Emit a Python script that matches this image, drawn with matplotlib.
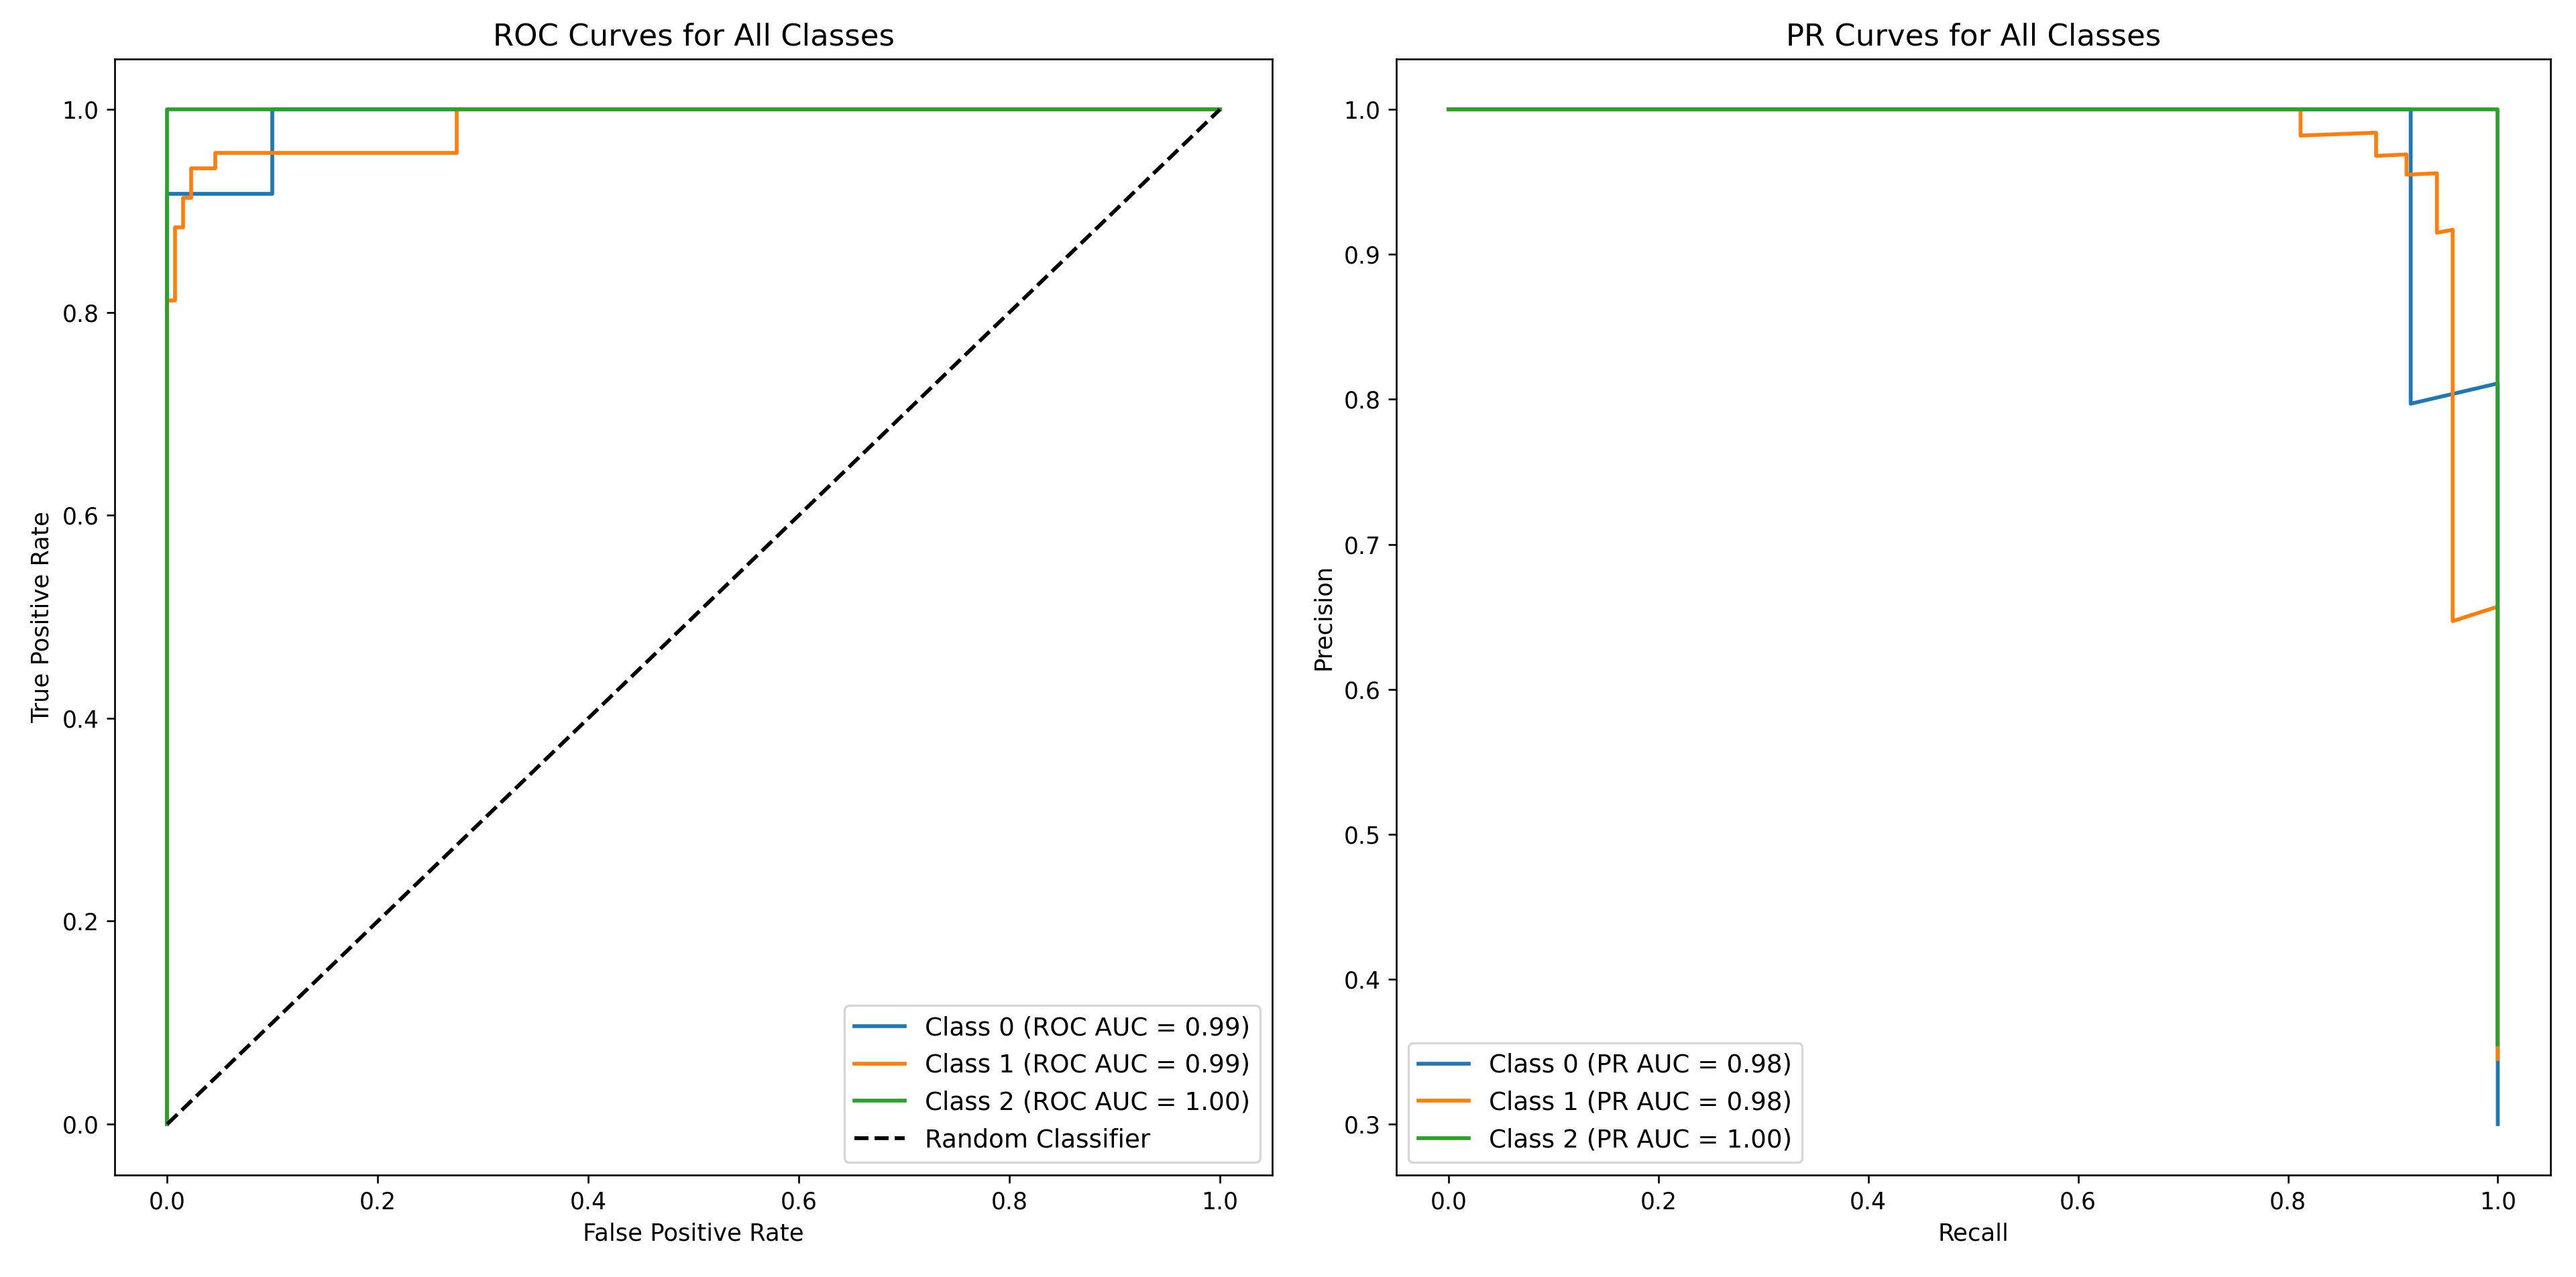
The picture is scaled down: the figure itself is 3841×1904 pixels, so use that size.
import matplotlib
matplotlib.use("Agg")
import matplotlib.pyplot as plt

# ROC curve points (fpr, tpr) per class
roc_fpr_0 = [0.0, 0.0, 0.100, 0.100, 1.0]
roc_tpr_0 = [0.0, 0.917, 0.917, 1.0, 1.0]
roc_fpr_1 = [0.0, 0.0, 0.0076, 0.0076, 0.0153, 0.0153, 0.0229, 0.0229, 0.0458, 0.0458, 0.275, 0.275, 1.0]
roc_tpr_1 = [0.0, 0.812, 0.812, 0.884, 0.884, 0.913, 0.913, 0.942, 0.942, 0.957, 0.957, 1.0, 1.0]
roc_fpr_2 = [0.0, 0.0, 1.0]
roc_tpr_2 = [0.0, 1.0, 1.0]
roc_auc = [0.99, 0.99, 1.00]

# PR curve points (recall, precision) per class
pr_rec_0 = [0.0, 0.917, 0.917, 1.0, 1.0]
pr_prec_0 = [1.0, 1.0, 0.797, 0.811, 0.300]
pr_rec_1 = [0.0, 0.812, 0.812, 0.884, 0.884, 0.913, 0.913, 0.942, 0.942, 0.942, 0.942, 0.957, 0.957, 1.0, 1.0]
pr_prec_1 = [1.0, 1.0, 0.982, 0.984, 0.968, 0.969, 0.955, 0.956, 0.942, 0.929, 0.915, 0.917, 0.647, 0.657, 0.345]
pr_rec_2 = [0.0, 1.0, 1.0]
pr_prec_2 = [1.0, 1.0, 0.355]
pr_auc = [0.98, 0.98, 1.00]

colors = ["#1f77b4", "#ff7f0e", "#2ca02c"]

plt.rcParams["xtick.labelsize"] = 10.4
plt.rcParams["ytick.labelsize"] = 10.4
plt.rcParams["axes.labelsize"] = 10.6
plt.rcParams["axes.titlesize"] = 13.5
plt.rcParams["legend.fontsize"] = 11.2
plt.rcParams["lines.linewidth"] = 1.7

fig = plt.figure(figsize=(3841 / 240, 1904 / 240), dpi=240)
ax1 = fig.add_axes([0.0445, 0.080, 0.4495, 0.874])
ax2 = fig.add_axes([0.542, 0.080, 0.448, 0.874])

# ROC
roc_x = [roc_fpr_0, roc_fpr_1, roc_fpr_2]
roc_y = [roc_tpr_0, roc_tpr_1, roc_tpr_2]
for i in range(3):
    ax1.plot(roc_x[i], roc_y[i], color=colors[i],
             label="Class %d (ROC AUC = %.2f)" % (i, roc_auc[i]))
ax1.plot([0, 1], [0, 1], "k--", label="Random Classifier")
ax1.set_xlabel("False Positive Rate")
ax1.set_ylabel("True Positive Rate")
ax1.set_title("ROC Curves for All Classes")
ax1.legend(loc="lower right")

# PR
pr_x = [pr_rec_0, pr_rec_1, pr_rec_2]
pr_y = [pr_prec_0, pr_prec_1, pr_prec_2]
for i in range(3):
    ax2.plot(pr_x[i], pr_y[i], color=colors[i],
             label="Class %d (PR AUC = %.2f)" % (i, pr_auc[i]))
ax2.set_xlabel("Recall")
ax2.set_ylabel("Precision")
ax2.set_title("PR Curves for All Classes")
ax2.legend(loc="lower left")

fig.savefig("out.png", dpi=240)
